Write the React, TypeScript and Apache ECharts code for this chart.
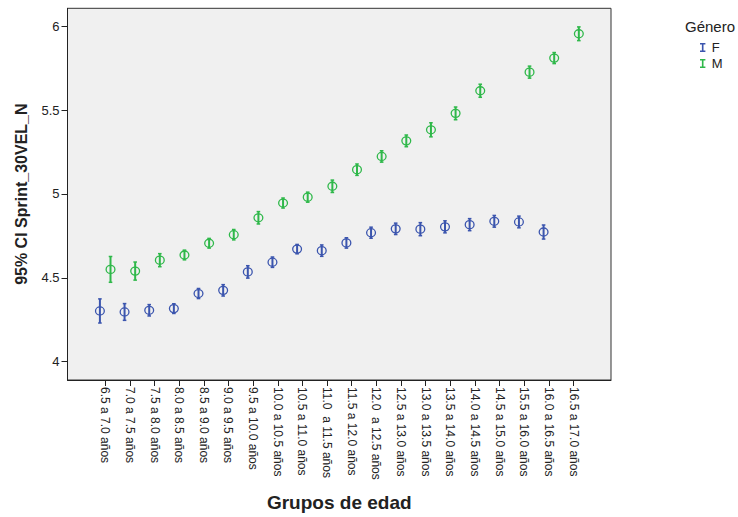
import { useEffect, useRef } from 'react';
import * as echarts from 'echarts';

// Age groups on the horizontal axis
const categories = [
  '6.5 a 7.0 años',
  '7.0 a 7.5 años',
  '7.5 a 8.0 años',
  '8.0 a 8.5 años',
  '8.5 a 9.0 años',
  '9.0 a 9.5 años',
  '9.5 a 10.0 años',
  '10.0 a 10.5 años',
  '10.5 a 11.0 años',
  '11.0  a 11.5 años',
  '11.5 a 12.0 años',
  '12.0  a 12.5 años',
  '12.5 a 13.0 años',
  '13.0 a 13.5 años',
  '13.5 a 14.0 años',
  '14.0 a 14.5 años',
  '14.5 a 15.0 años',
  '15.5 a 16.0 años',
  '16.0 a 16.5 años',
  '16.5 a 17.0 años',
];

// Mean and 95% CI half-width, females
const femaleMean = [4.302, 4.296, 4.306, 4.316, 4.406, 4.425, 4.535, 4.593, 4.671, 4.662, 4.708, 4.769, 4.792, 4.79, 4.804, 4.817, 4.837, 4.833, 4.773, null];
const femaleCI = [0.072, 0.05, 0.034, 0.029, 0.03, 0.034, 0.037, 0.031, 0.028, 0.034, 0.031, 0.033, 0.034, 0.039, 0.036, 0.036, 0.035, 0.035, 0.042, null];

// Mean and 95% CI half-width, males
const maleMean = [4.55, 4.54, 4.605, 4.636, 4.706, 4.757, 4.858, 4.946, 4.981, 5.046, 5.145, 5.224, 5.317, 5.383, 5.481, 5.616, null, 5.727, 5.811, 5.956];
const maleCI = [0.077, 0.054, 0.039, 0.029, 0.029, 0.031, 0.037, 0.03, 0.03, 0.037, 0.034, 0.034, 0.035, 0.042, 0.038, 0.039, null, 0.036, 0.033, 0.041];

const yTicks = [4, 4.5, 5, 5.5, 6];

const BLUE = '#3b55ae';
const GREEN = '#2fb84a';
const FONT = '"Liberation Sans", Arial, sans-serif';
const LEGEND_ICON =
  'path://M0,0L6,0L6,1.6L3.9,1.6L3.9,8.4L6,8.4L6,10L0,10L0,8.4L2.1,8.4L2.1,1.6L0,1.6Z';

function toPoints(mean: (number | null)[], ci: (number | null)[]) {
  const out: number[][] = [];
  mean.forEach((m, i) => {
    const h = ci[i];
    if (m != null && h != null) out.push([i, m, h]);
  });
  return out;
}

// Circle marker with a vertical confidence-interval bar, shifted sideways by group
function errorBarRenderer(offset: number) {
  return (_params: any, api: any) => {
    const x = api.value(0);
    const m = api.value(1);
    const h = api.value(2);
    const c = api.coord([x, m]);
    const hi = api.coord([x, m + h]);
    const lo = api.coord([x, m - h]);
    const cx = c[0] + offset;
    const color = api.visual('color');
    return {
      type: 'group',
      children: [
        {
          type: 'line',
          shape: { x1: cx, y1: hi[1], x2: cx, y2: lo[1] },
          style: { stroke: color, lineWidth: 2 },
        },
        {
          type: 'line',
          shape: { x1: cx - 1.8, y1: hi[1], x2: cx + 1.8, y2: hi[1] },
          style: { stroke: color, lineWidth: 1.5 },
        },
        {
          type: 'line',
          shape: { x1: cx - 1.8, y1: lo[1], x2: cx + 1.8, y2: lo[1] },
          style: { stroke: color, lineWidth: 1.5 },
        },
        {
          type: 'ellipse',
          shape: { cx, cy: c[1], rx: 4.4, ry: 4 },
          style: { fill: 'none', stroke: color, lineWidth: 1.3 },
        },
      ],
    };
  };
}

export default function App() {
  const ref = useRef<HTMLDivElement>(null);

  useEffect(() => {
    if (!ref.current) return;
    const chart = echarts.init(ref.current, undefined, { renderer: 'svg' });
    const xIdx = categories.map((_, i) => i);

    chart.setOption({
      animation: false,
      backgroundColor: '#ffffff',
      title: {
        text: 'Género',
        left: 680,
        top: 14,
        textStyle: { fontFamily: FONT, fontSize: 15, fontWeight: 'normal', color: '#222' },
      },
      legend: {
        orient: 'vertical',
        left: 695,
        top: 36,
        itemWidth: 8,
        itemHeight: 9,
        itemGap: 3,
        textStyle: { fontFamily: FONT, fontSize: 13, color: '#222' },
        data: [
          { name: 'F', icon: LEGEND_ICON },
          { name: 'M', icon: LEGEND_ICON },
        ],
      },
      grid: {
        left: 67.5,
        right: 127,
        top: 8.3,
        bottom: 130,
        show: true,
        backgroundColor: '#f0f0f0',
        borderColor: '#333',
        borderWidth: 1,
      },
      xAxis: {
        type: 'value',
        min: -1.53,
        max: 20.52,
        name: 'Grupos de edad',
        nameLocation: 'middle',
        nameGap: 113,
        nameTextStyle: { fontFamily: FONT, fontSize: 19, fontWeight: 'bold', color: '#222' },
        axisLine: { show: true, onZero: false, lineStyle: { color: '#222', width: 1 } },
        axisTick: { show: true, length: 6, customValues: xIdx, lineStyle: { color: '#222' } },
        splitLine: { show: false },
        axisLabel: {
          customValues: xIdx,
          rotate: -90,
          margin: 7,
          fontFamily: FONT,
          fontSize: 12,
          color: '#222',
          formatter: (v: number) => categories[Math.round(v)] ?? '',
        },
      },
      yAxis: {
        type: 'value',
        min: 3.89,
        max: 6.108,
        name: '95% CI Sprint_30VEL_N',
        nameLocation: 'middle',
        nameGap: 38,
        nameTextStyle: { fontFamily: FONT, fontSize: 16, fontWeight: 'bold', color: '#222' },
        axisLine: { show: true, onZero: false, lineStyle: { color: '#222', width: 1 } },
        axisTick: { show: true, length: 6, customValues: yTicks, lineStyle: { color: '#222' } },
        splitLine: { show: false },
        axisLabel: {
          customValues: yTicks,
          margin: 8,
          fontFamily: FONT,
          fontSize: 13,
          color: '#222',
          formatter: (v: number) => String(v),
        },
      },
      series: [
        {
          name: 'F',
          type: 'custom',
          itemStyle: { color: BLUE },
          renderItem: errorBarRenderer(-5.3),
          data: toPoints(femaleMean, femaleCI),
        },
        {
          name: 'M',
          type: 'custom',
          itemStyle: { color: GREEN },
          renderItem: errorBarRenderer(5.3),
          data: toPoints(maleMean, maleCI),
        },
      ],
    });

    return () => chart.dispose();
  }, []);

  return (
    <div
      ref={ref}
      style={{ position: 'fixed', left: 0, top: 0, width: 738, height: 517 }}
    />
  );
}
